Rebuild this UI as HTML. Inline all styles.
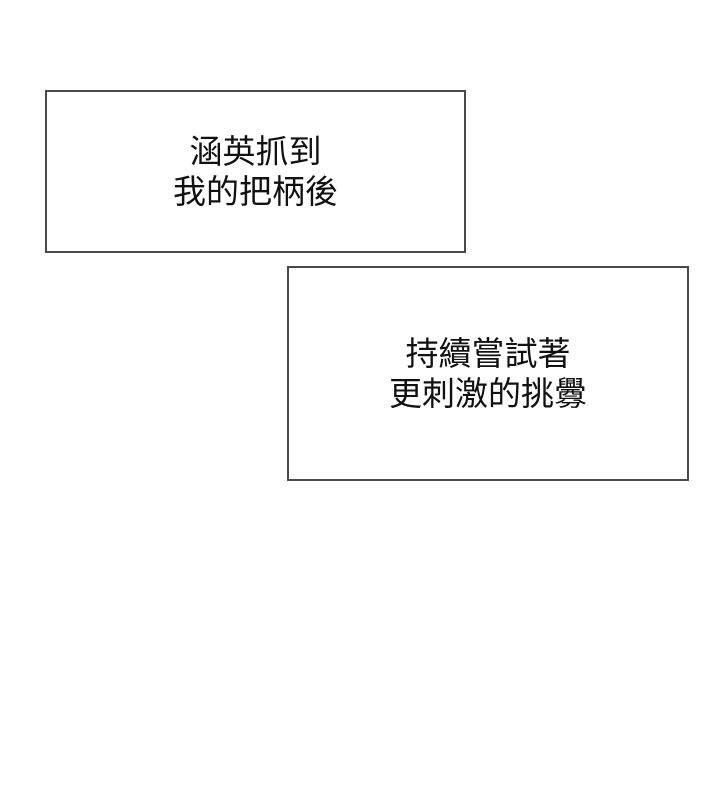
<!DOCTYPE html>
<html><head><meta charset="utf-8"><style>
body{margin:0;width:720px;height:800px;background:#fff;position:relative;overflow:hidden}
.b{position:absolute;border:2px solid #4a4a4a;box-sizing:border-box;background:#fff}
.t{position:absolute;left:0;right:0;text-align:center;font-family:"Liberation Sans","Noto Sans CJK TC",sans-serif;font-size:33px;line-height:40px;color:#111}
</style></head><body>
<div class="b" style="left:45px;top:90px;width:421px;height:163px">
<div class="t" style="top:40px">涵英抓到<br>我的把柄後</div></div>
<div class="b" style="left:287px;top:266px;width:402px;height:215px">
<div class="t" style="top:66px">持續嘗試著<br>更刺激的挑釁</div></div>
</body></html>
